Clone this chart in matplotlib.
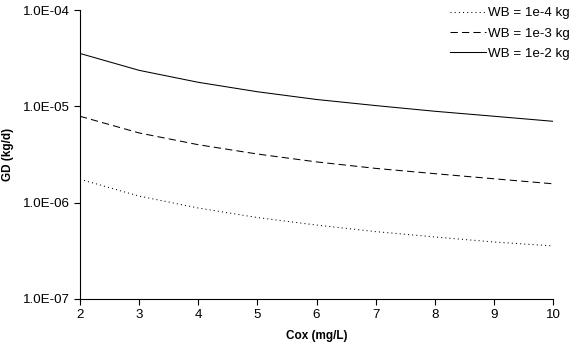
import numpy as np
import matplotlib
matplotlib.use('Agg')
import matplotlib.pyplot as plt
from matplotlib.ticker import FixedLocator, NullLocator

plt.rcParams['font.family'] = ['Liberation Sans', 'DejaVu Sans']

# Cox values (mg/L)
cox = [2, 3, 4, 5, 6, 7, 8, 9, 10]
# GD (kg/d) for each body weight
gd_wb_1e4 = [1.75e-6, 1.17e-6, 8.8e-7, 7.0e-7, 5.85e-7, 5.0e-7, 4.4e-7, 3.9e-7, 3.55e-7]
gd_wb_1e3 = [7.9e-6, 5.3e-6, 4.0e-6, 3.2e-6, 2.65e-6, 2.27e-6, 2.0e-6, 1.77e-6, 1.57e-6]
gd_wb_1e2 = [3.55e-5, 2.37e-5, 1.78e-5, 1.42e-5, 1.18e-5, 1.02e-5, 8.9e-6, 7.9e-6, 7.0e-6]
labels = ['WB = 1e-4 kg', 'WB = 1e-3 kg', 'WB = 1e-2 kg']
yticks = [1e-7, 1e-6, 1e-5, 1e-4]
ytick_labels = ['1.0E-07', '1.0E-06', '1.0E-05', '1.0E-04']

fig = plt.figure(figsize=(5.75, 3.5), dpi=100)
ax = fig.add_axes([0.139, 0.146, 0.823, 0.825])

ax.plot(cox, gd_wb_1e4, color='black', lw=0.75, linestyle=(0, (1, 3)), label=labels[0])
ax.plot(cox, gd_wb_1e3, color='black', lw=0.75, linestyle=(0, (7, 4)), label=labels[1])
ax.plot(cox, gd_wb_1e2, color='black', lw=0.75, linestyle='-', label=labels[2])

ax.set_yscale('log')
ax.set_ylim(1e-7, 1e-4)
ax.set_xlim(2, 10)
ax.yaxis.set_major_locator(FixedLocator(yticks))
ax.yaxis.set_minor_locator(NullLocator())
ax.set_yticklabels(ytick_labels)
ax.set_xticks(cox)

ax.spines['top'].set_visible(False)
ax.spines['right'].set_visible(False)
for s in ['left', 'bottom']:
    ax.spines[s].set_linewidth(0.8)
ax.tick_params(direction='out', length=4, width=0.8, labelsize=9.6)

ax.set_xlabel('Cox (mg/L)', fontsize=8.5, fontweight='bold', labelpad=6)
ax.set_ylabel('GD (kg/d)', fontsize=8.5, fontweight='bold', labelpad=6)

leg = ax.legend(loc='upper right', bbox_to_anchor=(0.997, 0.99), bbox_transform=fig.transFigure,
                borderaxespad=0, borderpad=0.25, frameon=False,
                fontsize=9.6, handlelength=2.7, handletextpad=0.15, labelspacing=0.6)

fig.savefig('out.png', dpi=100)
